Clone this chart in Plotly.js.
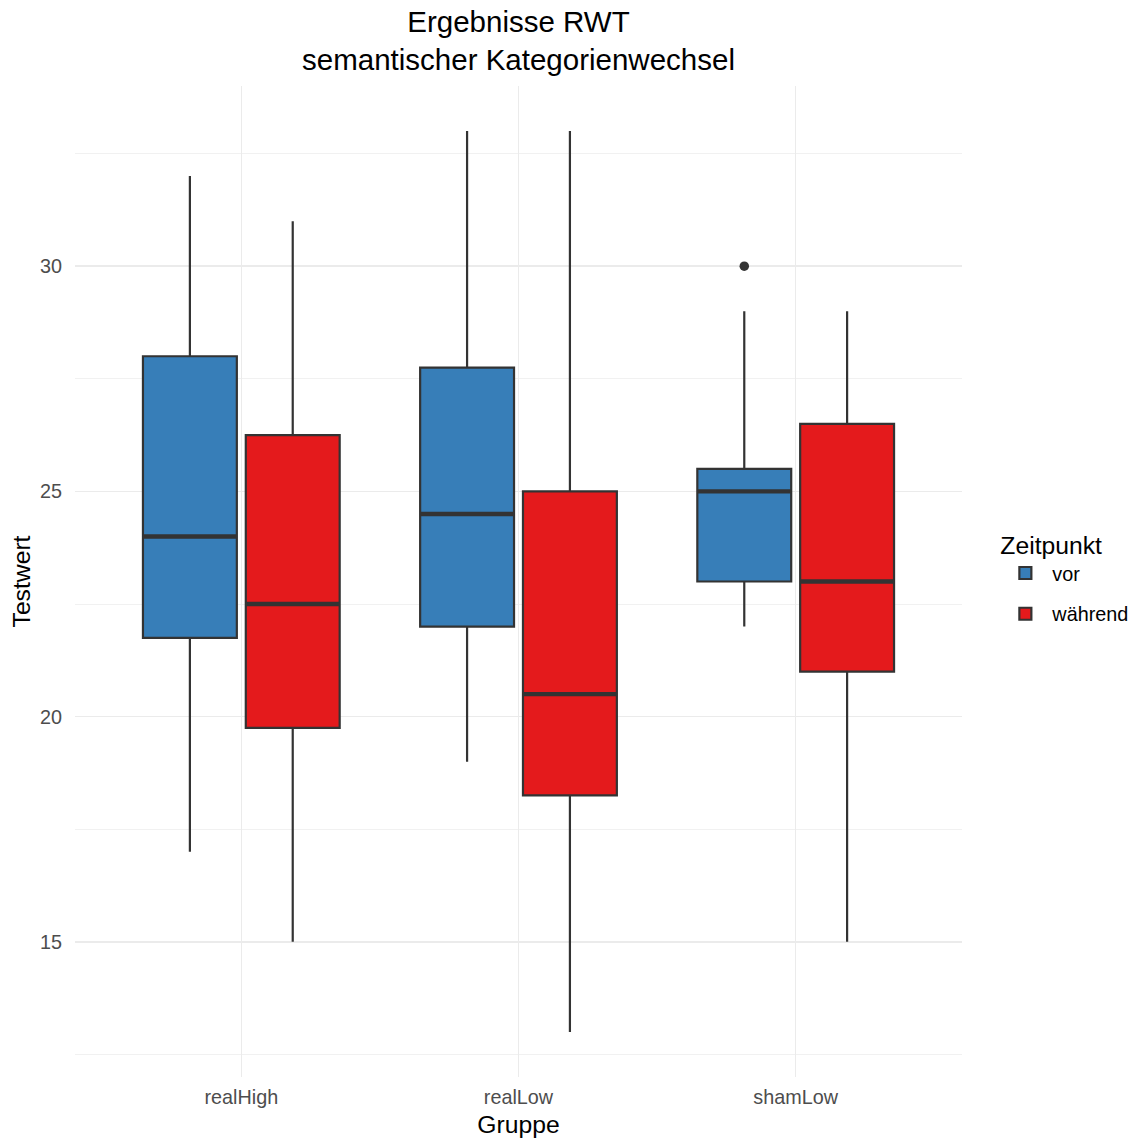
<!DOCTYPE html>
<html>
<head>
<meta charset="utf-8">
<script src="https://cdn.plot.ly/plotly-3.0.1.min.js"></script>
<style>html,body{margin:0;padding:0;background:#fff;}#chart{width:1134px;height:1142px;}</style>
</head>
<body>
<div id="chart"></div>
<script>
// ---- data ----
const groups = ['realHigh', 'realLow', 'shamLow'];

const vorLower  = [17, 19, 22];
const vorQ1     = [21.75, 22, 23];
const vorMedian = [24, 24.5, 25];
const vorQ3     = [28, 27.75, 25.5];
const vorUpper  = [32, 33, 29];
const vorOutlierGroups = ['shamLow'];
const vorOutlierValues = [30];

const waeLower  = [15, 13, 15];
const waeQ1     = [19.75, 18.25, 21];
const waeMedian = [22.5, 20.5, 23];
const waeQ3     = [26.25, 25, 26.5];
const waeUpper  = [31, 33, 29];

const seriesNames = ['vor', 'während'];
const yTicks = [15, 20, 25, 30];

// ---- styles ----
const lineCol = '#333333';
const blue = '#377EB8';
const red = '#E41A1C';

function boxTrace(name, q1, med, q3, lo, hi, fill) {
  return {
    type: 'box',
    name: name,
    x: groups,
    q1: q1, median: med, q3: q3, lowerfence: lo, upperfence: hi,
    boxpoints: false,
    fillcolor: fill,
    line: {color: lineCol, width: 2.2},
    whiskerwidth: 0,
    offsetgroup: name,
    alignmentgroup: 'a',
    legendgroup: name,
    hoverinfo: 'skip'
  };
}
function medianTrace(name, med) {
  return {
    type: 'box',
    name: name,
    x: groups,
    q1: med, median: med, q3: med, lowerfence: med, upperfence: med,
    boxpoints: false,
    fillcolor: 'rgba(0,0,0,0)',
    line: {color: lineCol, width: 4.4},
    whiskerwidth: 0,
    offsetgroup: name,
    alignmentgroup: 'a',
    legendgroup: name,
    showlegend: false,
    hoverinfo: 'skip'
  };
}
function outlierTrace(name, xs, ys) {
  return {
    type: 'box',
    name: name,
    x: xs,
    y: ys,
    boxpoints: 'all',
    jitter: 0, pointpos: 0,
    marker: {color: lineCol, size: 9.5, line: {width: 0}},
    fillcolor: 'rgba(0,0,0,0)',
    line: {color: 'rgba(0,0,0,0)', width: 0},
    offsetgroup: name,
    alignmentgroup: 'a',
    legendgroup: name,
    showlegend: false,
    hoverinfo: 'skip'
  };
}

const data = [
  boxTrace(seriesNames[0], vorQ1, vorMedian, vorQ3, vorLower, vorUpper, blue),
  boxTrace(seriesNames[1], waeQ1, waeMedian, waeQ3, waeLower, waeUpper, red),
  medianTrace(seriesNames[0], vorMedian),
  medianTrace(seriesNames[1], waeMedian),
  outlierTrace(seriesNames[0], vorOutlierGroups, vorOutlierValues)
];

const layout = {
  width: 1134, height: 1142,
  paper_bgcolor: '#ffffff', plot_bgcolor: '#ffffff',
  font: {family: '"Liberation Sans", Arial, sans-serif', color: '#000000'},
  margin: {l: 75, r: 172, t: 86, b: 65, autoexpand: false},
  boxmode: 'group',
  boxgap: 0.258,
  boxgroupgap: 0.087,
  title: {
    text: 'Ergebnisse RWT<br>semantischer Kategorienwechsel',
    font: {size: 29.5, color: '#000000'},
    x: 0.5, xref: 'paper', xanchor: 'center',
    y: 1, yref: 'container', yanchor: 'top',
    pad: {t: 32}
  },
  xaxis: {
    type: 'category',
    categoryorder: 'array', categoryarray: groups,
    range: [-0.6, 2.6],
    showgrid: true, gridcolor: '#EBEBEB', gridwidth: 1.6,
    zeroline: false, showline: false, ticks: '',
    tickfont: {size: 19.8, color: '#4D4D4D'},
    ticklabelstandoff: 6,
    title: {text: 'Gruppe', font: {size: 24.7, color: '#000000'}, standoff: 8}
  },
  yaxis: {
    range: [12, 34],
    tickvals: yTicks,
    ticktext: yTicks.map(String),
    showgrid: true, gridcolor: '#EBEBEB', gridwidth: 1.6,
    minor: {tick0: 12.5, dtick: 5, showgrid: true, gridcolor: '#EEEEEE', gridwidth: 0.8},
    zeroline: false, showline: false, ticks: '',
    tickfont: {size: 19.8, color: '#4D4D4D'},
    ticklabelstandoff: 12,
    title: {text: 'Testwert', font: {size: 24.7, color: '#000000'}, standoff: 2}
  },
  showlegend: true,
  legend: {
    x: 1.041, xanchor: 'left', y: 0.504, yanchor: 'middle',
    title: {text: 'Zeitpunkt', font: {size: 24.7, color: '#000000'}},
    font: {size: 19.8, color: '#000000'},
    bgcolor: 'rgba(0,0,0,0)',
    traceorder: 'grouped',
    tracegroupgap: 12,
    itemwidth: 44,
    itemclick: false
  }
};

Plotly.newPlot('chart', data, layout, {displayModeBar: false, staticPlot: true});
</script>
</body>
</html>
